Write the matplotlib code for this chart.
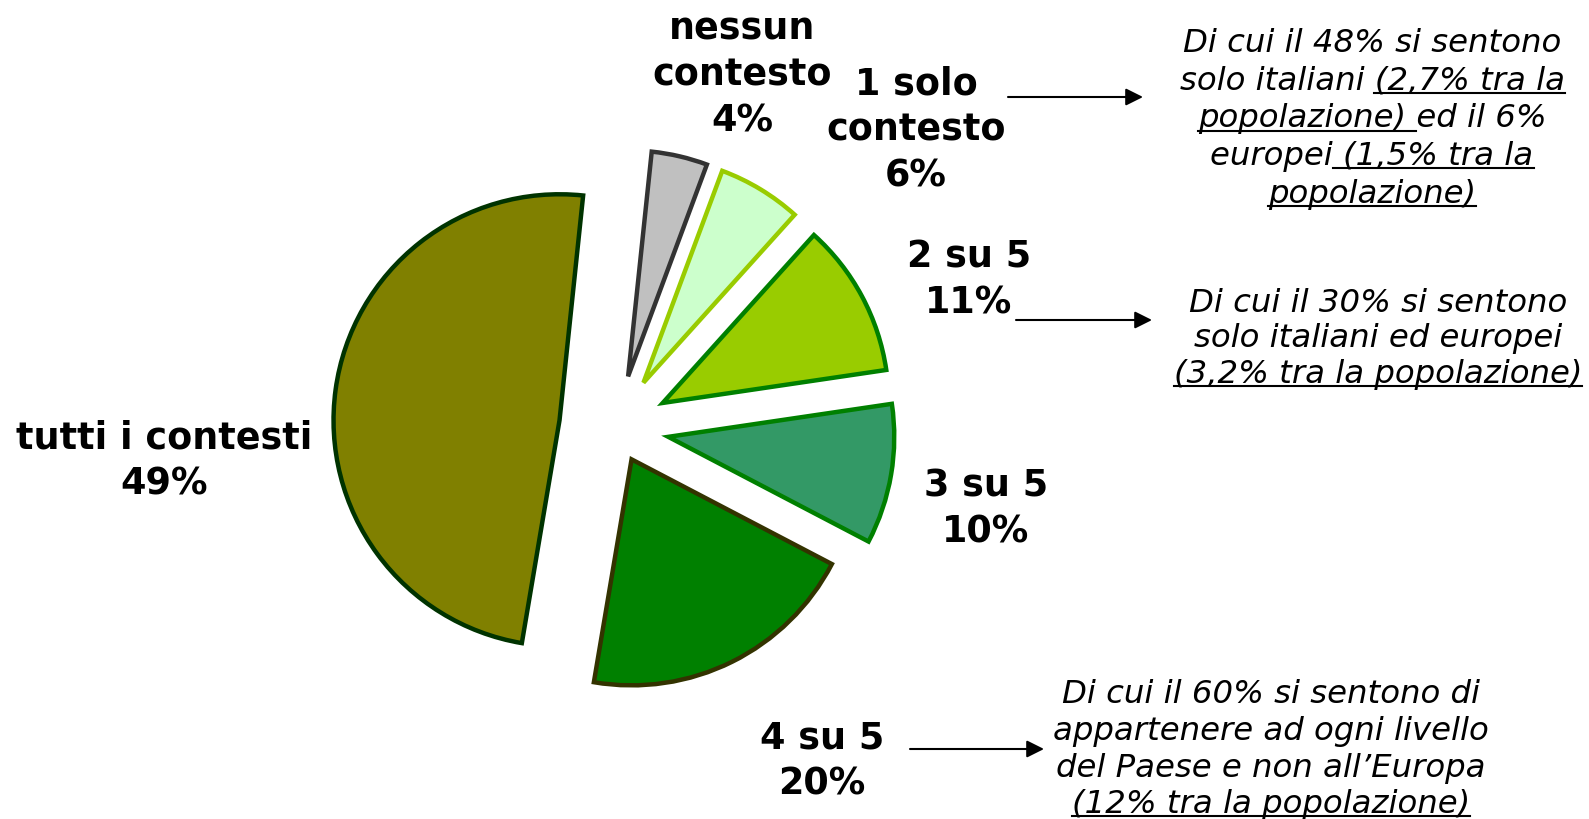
import matplotlib.pyplot as plt

# quote degli intervistati per numero di contesti
categorie = ["nessun\ncontesto", "1 solo\ncontesto", "2 su 5", "3 su 5", "4 su 5", "tutti i contesti"]
quote = [4, 6, 11, 10, 20, 49]
colori = ["#C0C0C0", "#CCFFCC", "#99CC00", "#339966", "#008000", "#808000"]
bordi = ["#333333", "#99CC00", "#008000", "#008000", "#333300", "#003300"]

# note a destra (righe e parte sottolineata di ogni riga)
nota_1 = ["Di cui il 48% si sentono", "solo italiani (2,7% tra la", "popolazione) ed il 6%",
          "europei (1,5% tra la", "popolazione)"]
sott_1 = [None, "(2,7% tra la", "popolazione) ", " (1,5% tra la", "popolazione)"]
nota_2 = ["Di cui il 30% si sentono", "solo italiani ed europei", "(3,2% tra la popolazione)"]
sott_2 = [None, None, "(3,2% tra la popolazione)"]
nota_3 = ["Di cui il 60% si sentono di", "appartenere ad ogni livello",
          "del Paese e non all\u2019Europa", "(12% tra la popolazione)"]
sott_3 = [None, None, None, "(12% tra la popolazione)"]

W, H = 1589, 820
fig = plt.figure(figsize=(W / 100, H / 100), dpi=100)
ax = fig.add_axes([0, 0, 1, 1])

# pixel coords, y downwards -> angles mirrored, so counterclock=True draws clockwise
wedges, _ = ax.pie(quote, center=(616, 429), radius=226, startangle=-84, counterclock=True,
                   explode=[53, 53, 53, 53, 35, 57], colors=colori,
                   wedgeprops=dict(linewidth=3.2, joinstyle="miter"))
for w, b in zip(wedges, bordi):
    w.set_edgecolor(b)

ax.set_xlim(0, W)
ax.set_ylim(H, 0)
ax.set_aspect("auto")
ax.axis("off")

# etichette
pos_etichette = [(742, 75), (916, 130), (969, 280), (986, 509), (822, 761), (164, 461)]
for nome, q, (x, y) in zip(categorie, quote, pos_etichette):
    ax.text(x, y, f"{nome}\n{q}%", ha="center", va="center", fontsize=26.3,
            fontweight="bold", linespacing=1.3, family="DejaVu Sans")

fig.canvas.draw()
rend = fig.canvas.get_renderer()
stile = dict(fontsize=23.3, style="italic", family="DejaVu Sans")


def larghezza(s):
    t = ax.text(0, 0, s + "l", **stile)
    g = ax.text(0, 0, "l", **stile)
    w = t.get_window_extent(rend).width - g.get_window_extent(rend).width
    t.remove()
    g.remove()
    return w


def scrivi_nota(righe, sott, cx, y0, passo):
    for i, (riga, s) in enumerate(zip(righe, sott)):
        y = y0 + i * passo
        t = ax.text(cx, y, riga, ha="center", va="baseline", **stile)
        if s:
            x0 = t.get_window_extent(rend).x0
            a = riga.index(s)
            xa = x0 + (larghezza(riga[:a]) if a else 0)
            xb = x0 + larghezza(riga[:a + len(s)])
            ax.plot([xa, xb], [y + 4, y + 4], color="black", lw=1.5)


scrivi_nota(nota_1, sott_1, 1372, 52, 37.75)
scrivi_nota(nota_2, sott_2, 1378, 312, 35.5)
scrivi_nota(nota_3, sott_3, 1271, 703, 36.8)

frecce = [((1008, 98), (1143, 98)), ((1016, 321), (1152, 321)), ((910, 750), (1044, 750))]
for a, b in frecce:
    ax.annotate("", xy=b, xytext=a,
                arrowprops=dict(arrowstyle="-|>", color="black", lw=1.5,
                                mutation_scale=26, shrinkA=0, shrinkB=0))

fig.savefig("out.png", dpi=100)
